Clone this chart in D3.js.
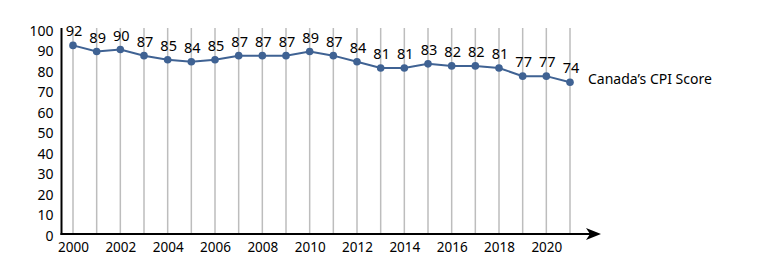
<!DOCTYPE html>
<html>
<head>
<meta charset="utf-8">
<script src="https://cdn.jsdelivr.net/npm/d3@7"></script>
<style>
  body { margin: 0; background: #fff; }
  svg text { font-family: "Noto Sans", "Open Sans", sans-serif; fill: #000; }
</style>
</head>
<body>
<script>
var years = d3.range(2000, 2022);
var scores = [92, 89, 90, 87, 85, 84, 85, 87, 87, 87, 89, 87, 84, 81, 81, 83, 82, 82, 81, 77, 77, 74];
var yTicks = [0, 10, 20, 30, 40, 50, 60, 70, 80, 90, 100];
var xTickYears = [2000, 2002, 2004, 2006, 2008, 2010, 2012, 2014, 2016, 2018, 2020];
var seriesName = "Canada\u2019s CPI Score";

var width = 772,
  height = 276;

var svg = d3
  .select("body")
  .append("svg")
  .attr("width", width)
  .attr("height", height);

var x = d3.scaleLinear().domain([2000, 2021]).range([73, 570]);
var y = d3.scaleLinear().domain([0, 100]).range([234, 29]);

// vertical grid lines
svg
  .selectAll(".grid")
  .data(years)
  .enter()
  .append("line")
  .attr("class", "grid")
  .attr("x1", (d) => x(d))
  .attr("x2", (d) => x(d))
  .attr("y1", y(100) - 1)
  .attr("y2", y(0))
  .attr("stroke", "#bdbdbd")
  .attr("stroke-width", 1.5);

// y axis labels
var yAxis = d3.axisLeft(y).tickValues(yTicks).tickSize(0).tickPadding(8);
var gy = svg.append("g").attr("transform", "translate(61.5,0)").call(yAxis);
gy.select(".domain").remove();
gy.selectAll("text")
  .attr("dy", "0.45em")
  .style("font-size", "14px")
  .style("font-family", "'Noto Sans', sans-serif");

// x axis labels
var xAxis = d3
  .axisBottom(x)
  .tickValues(xTickYears)
  .tickFormat(d3.format("d"))
  .tickSize(0)
  .tickPadding(8);
var gx = svg.append("g").attr("transform", "translate(0," + y(0) + ")").call(xAxis);
gx.select(".domain").remove();
gx.selectAll("text")
  .style("font-size", "13.5px")
  .style("font-family", "'Noto Sans', sans-serif");

// axis lines
svg
  .append("line")
  .attr("x1", 61.5)
  .attr("x2", 61.5)
  .attr("y1", y(100) - 1)
  .attr("y2", y(0) + 1)
  .attr("stroke", "#000")
  .attr("stroke-width", 2);

svg
  .append("line")
  .attr("x1", 60.5)
  .attr("x2", 590)
  .attr("y1", y(0))
  .attr("y2", y(0))
  .attr("stroke", "#000")
  .attr("stroke-width", 2);

// arrow head
svg
  .append("path")
  .attr("d", "M586,228 L601," + y(0) + " L586,240 L590," + y(0) + " Z")
  .attr("fill", "#000");

// series line
var line = d3
  .line()
  .x((d, i) => x(years[i]))
  .y((d) => y(d));

svg
  .append("path")
  .datum(scores)
  .attr("d", line)
  .attr("fill", "none")
  .attr("stroke", "#3f6293")
  .attr("stroke-width", 2);

svg
  .selectAll(".dot")
  .data(scores)
  .enter()
  .append("circle")
  .attr("class", "dot")
  .attr("cx", (d, i) => x(years[i]))
  .attr("cy", (d) => y(d))
  .attr("r", 3.8)
  .attr("fill", "#3f6293");

// data labels
svg
  .selectAll(".lbl")
  .data(scores)
  .enter()
  .append("text")
  .attr("class", "lbl")
  .attr("x", (d, i) => x(years[i]) + 1)
  .attr("y", (d) => y(d) - 9)
  .attr("text-anchor", "middle")
  .style("font-size", "14.5px")
  .text((d) => d);

// series name
svg
  .append("text")
  .attr("x", 588)
  .attr("y", y(scores[scores.length - 1]) + 2)
  .style("font-size", "14px")
  .text(seriesName);
</script>
</body>
</html>
